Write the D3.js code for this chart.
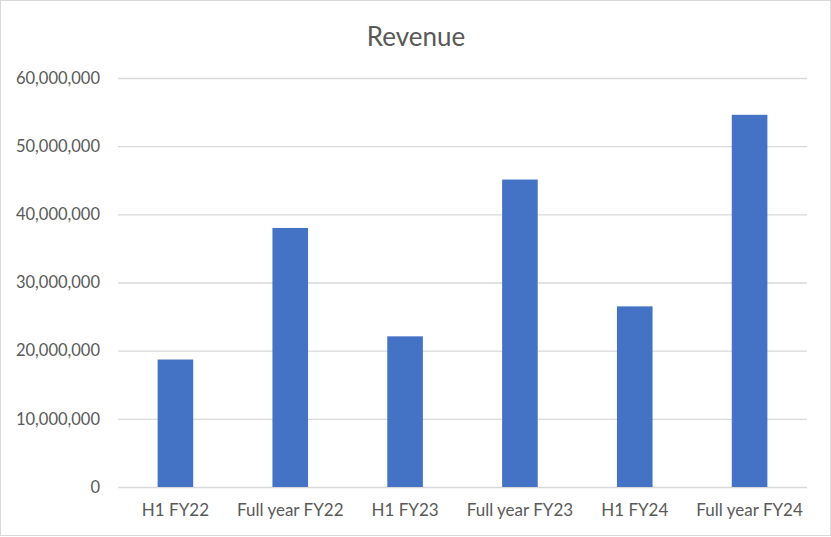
<!DOCTYPE html>
<html>
<head>
<meta charset="utf-8">
<script src="https://cdn.jsdelivr.net/npm/d3@7"></script>
<style>
  body { margin: 0; background: #fff; }
  text { font-family: Lato, "Open Sans", sans-serif; fill: #595959; }
</style>
</head>
<body>
<div id="chart"></div>
<script>
var categories = ['H1 FY22', 'Full year FY22', 'H1 FY23', 'Full year FY23', 'H1 FY24', 'Full year FY24'];
var revenue = [18700000, 38000000, 22100000, 45100000, 26500000, 54600000];
var yTicks = [0, 10000000, 20000000, 30000000, 40000000, 50000000, 60000000];

var W = 831, H = 537;
var margin = { top: 78, right: 24, bottom: 50, left: 118 };
var width = W - margin.left - margin.right;
var height = H - margin.top - margin.bottom;

var svg = d3.select('#chart')
  .append('svg')
    .attr('width', W)
    .attr('height', H);

// outer frame
svg.append('rect')
  .attr('x', 0.5).attr('y', 0.5)
  .attr('width', W - 1).attr('height', H - 2)
  .attr('fill', '#fff')
  .attr('stroke', '#d9d9d9');

svg.append('text')
  .attr('x', 416)
  .attr('y', 37)
  .attr('dy', '0.35em')
  .attr('text-anchor', 'middle')
  .style('font-size', '26px')
  .text('Revenue');

var g = svg.append('g')
  .attr('transform', `translate(${margin.left}, ${margin.top})`);

var x = d3.scaleBand()
  .domain(categories)
  .range([0, width])
  .paddingInner(0.69)
  .paddingOuter(0.345);

var y = d3.scaleLinear()
  .domain([0, 60000000])
  .range([height, 0]);

var fmt = d3.format(',');

// gridlines + y labels
var yAxis = g.append('g')
  .call(d3.axisLeft(y).tickValues(yTicks).tickSize(-width).tickPadding(18).tickFormat(fmt));
yAxis.select('.domain').remove();
yAxis.selectAll('.tick line').attr('stroke', '#d9d9d9').attr('stroke-width', 1.3);
yAxis.selectAll('.tick text')
  .style('font-size', '16.5px')
  .style('font-family', 'Lato, sans-serif')
  .attr('fill', '#595959');

g.selectAll('.bar')
  .data(revenue)
  .enter()
  .append('rect')
    .attr('class', 'bar')
    .attr('x', (d, i) => x(categories[i]))
    .attr('y', d => y(d))
    .attr('width', x.bandwidth())
    .attr('height', d => height - y(d))
    .attr('fill', '#4472c4');

// x labels
var xAxis = g.append('g')
  .attr('transform', `translate(0, ${height})`)
  .call(d3.axisBottom(x).tickSize(0).tickPadding(17));
xAxis.select('.domain').remove();
xAxis.selectAll('.tick text')
  .style('font-size', '17px')
  .style('font-family', 'Lato, sans-serif')
  .attr('fill', '#595959');
</script>
</body>
</html>
